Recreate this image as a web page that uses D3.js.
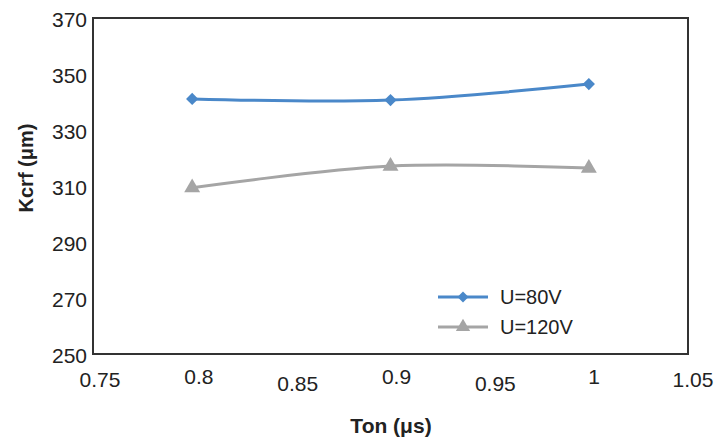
<!DOCTYPE html>
<html lang="en">
<head>
    <meta charset="UTF-8">
    <title>Kcrf vs Ton</title>
    <style>
        body { margin: 0; background: #fff; }
        svg text { font-family: "Liberation Sans", Arial, sans-serif; fill: #222; }
    </style>
</head>
<body>
    <div id="chart"></div>
    <script src="https://d3js.org/d3.v7.min.js"></script>
    <script>
        // data
        const tonValues = [0.8, 0.9, 1.0];
        const kcrf80V = [341.1, 340.7, 346.4];
        const kcrf120V = [309.4, 317.1, 316.4];
        const seriesNames = ['U=80V', 'U=120V'];
        const xTicks = [0.75, 0.8, 0.85, 0.9, 0.95, 1, 1.05];
        const yTicks = [250, 270, 290, 310, 330, 350, 370];

        const w = 715;
        const h = 442;
        const margin = { left: 93, top: 18, right: 27, bottom: 88 };

        const svg = d3.select('#chart')
            .append('svg')
            .attr('width', w)
            .attr('height', h);

        const xScale = d3.scaleLinear()
            .domain([0.75, 1.05])
            .range([margin.left, w - margin.right]);

        const yScale = d3.scaleLinear()
            .domain([250, 370])
            .range([h - margin.bottom, margin.top]);

        // labels in the figure sit a little right of where the scale puts them
        const labelScale = d3.scaleLinear()
            .domain([0.75, 1.05])
            .range([100, 693]);

        // frame
        svg.append('rect')
            .attr('x', margin.left)
            .attr('y', margin.top)
            .attr('width', xScale(1.05) - xScale(0.75))
            .attr('height', yScale(250) - yScale(370))
            .attr('fill', 'none')
            .attr('stroke', '#333')
            .attr('stroke-width', 2);

        // x tick labels (staggered like the original)
        svg.append('g')
            .attr('id', 'x-axis')
            .selectAll('text')
            .data(xTicks)
            .enter()
            .append('text')
            .attr('x', d => labelScale(d))
            .attr('y', (d, i) => i % 2 === 0 ? (i === 0 || i === 6 ? 387 : 391) : 384)
            .attr('text-anchor', 'middle')
            .attr('font-size', 21)
            .text(d => d);

        // y tick labels
        svg.append('g')
            .attr('id', 'y-axis')
            .selectAll('text')
            .data(yTicks)
            .enter()
            .append('text')
            .attr('x', 87)
            .attr('y', d => yScale(d) + 2)
            .attr('dy', '0.35em')
            .attr('text-anchor', 'end')
            .attr('font-size', 21)
            .text(d => d);

        // axis titles
        svg.append('text')
            .attr('transform', 'translate(33,168) rotate(-90)')
            .attr('text-anchor', 'middle')
            .attr('font-size', 20)
            .attr('font-weight', 'bold')
            .text('Kcrf (μm)');

        svg.append('text')
            .attr('x', 391)
            .attr('y', 433)
            .attr('text-anchor', 'middle')
            .attr('font-size', 21)
            .attr('font-weight', 'bold')
            .text('Ton (μs)');

        const series = [
            { name: seriesNames[0], values: kcrf80V, color: '#4a88c9', symbol: d3.symbolSquare, rot: 45, size: 75 },
            { name: seriesNames[1], values: kcrf120V, color: '#a5a5a5', symbol: d3.symbolTriangle, rot: 0, size: 110 }
        ];

        const line = d3.line()
            .x(d => xScale(d[0]))
            .y(d => yScale(d[1]))
            .curve(d3.curveCatmullRom.alpha(0.5));

        series.forEach(s => {
            const pts = tonValues.map((t, i) => [t, s.values[i]]);
            svg.append('path')
                .datum(pts)
                .attr('d', line)
                .attr('fill', 'none')
                .attr('stroke', s.color)
                .attr('stroke-width', 3);

            svg.selectAll(null)
                .data(pts)
                .enter()
                .append('path')
                .attr('d', d3.symbol().type(s.symbol).size(s.size))
                .attr('transform', d => `translate(${xScale(d[0])},${yScale(d[1])}) rotate(${s.rot})`)
                .attr('fill', s.color);
        });

        // legend
        const legend = svg.append('g').attr('transform', 'translate(438,297)');
        series.forEach((s, i) => {
            const g = legend.append('g').attr('transform', `translate(0,${i * 30})`);
            g.append('line')
                .attr('x1', 0).attr('x2', 50)
                .attr('stroke', s.color)
                .attr('stroke-width', 3);
            g.append('path')
                .attr('d', d3.symbol().type(s.symbol).size(s.size * 0.8))
                .attr('transform', `translate(25,0) rotate(${s.rot})`)
                .attr('fill', s.color);
            g.append('text')
                .attr('x', 62)
                .attr('dy', '0.35em')
                .attr('font-size', 20)
                .text(s.name);
        });
    </script>
</body>
</html>
